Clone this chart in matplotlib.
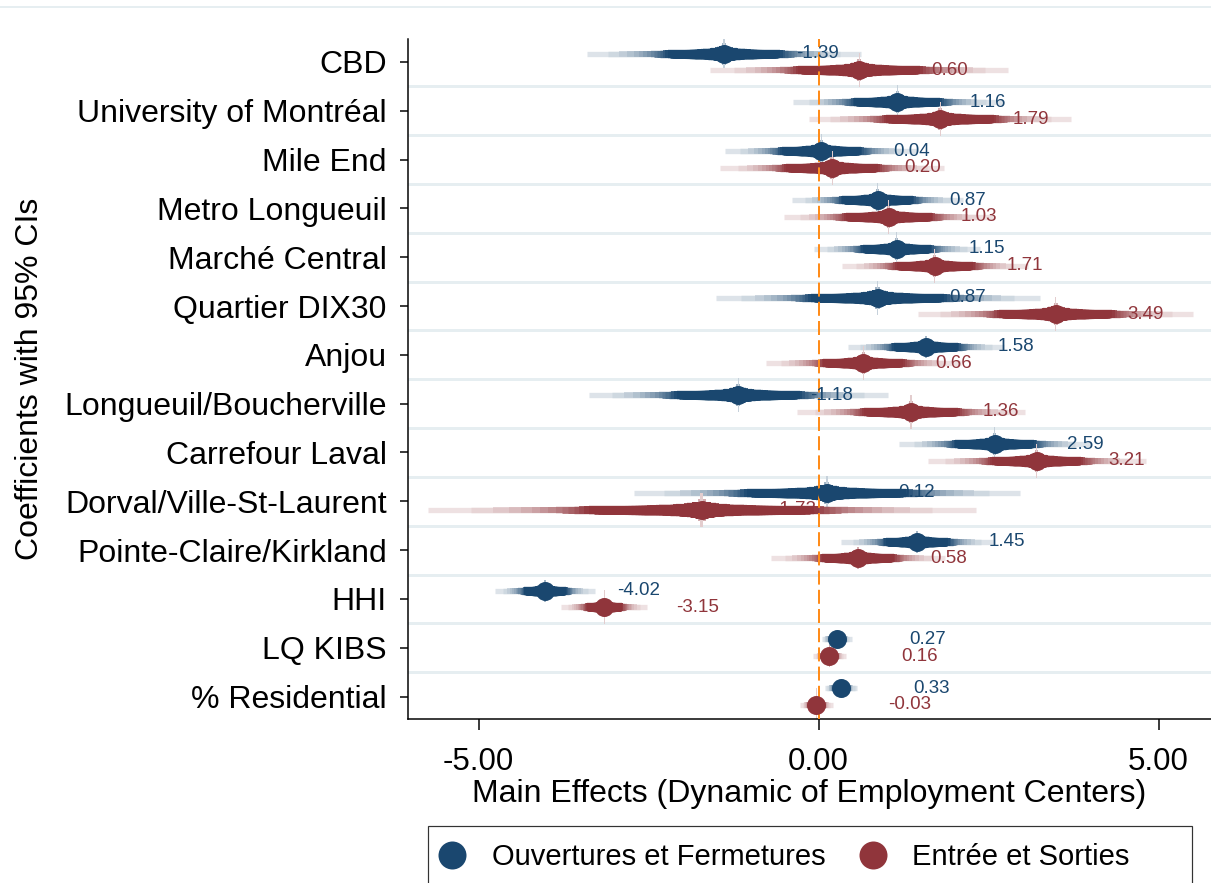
import matplotlib
matplotlib.use("Agg")
import matplotlib.pyplot as plt
import matplotlib.colors as mcolors
import numpy as np
from statistics import NormalDist
from matplotlib.lines import Line2D
from matplotlib.patches import Rectangle

plt.rcParams['font.family'] = ['Liberation Sans', 'DejaVu Sans']

# ---- data -------------------------------------------------------------
categories = ["CBD", "University of Montréal", "Mile End", "Metro Longueuil",
              "Marché Central", "Quartier DIX30", "Anjou",
              "Longueuil/Boucherville", "Carrefour Laval",
              "Dorval/Ville-St-Laurent", "Pointe-Claire/Kirkland", "HHI",
              "LQ KIBS", "% Residential"]

series_names = ["Ouvertures et Fermetures", "Entrée et Sorties"]

# point estimates
coef_open = [-1.39, 1.16, 0.04, 0.87, 1.15, 0.87, 1.58, -1.18, 2.59, 0.12,
             1.45, -4.02, 0.27, 0.33]
coef_entry = [0.60, 1.79, 0.20, 1.03, 1.71, 3.49, 0.66, 1.36, 3.21, -1.72,
              0.58, -3.15, 0.16, -0.03]

# half-width of the outermost (99%) interval
hw_open = [2.02, 1.54, 1.41, 1.26, 1.22, 2.38, 1.15, 2.20, 1.41, 2.84,
           1.12, 0.74, 0.22, 0.24]
hw_entry = [2.19, 1.93, 1.65, 1.54, 1.37, 2.02, 1.43, 1.68, 1.60, 4.03,
            1.28, 0.63, 0.24, 0.24]

xticks = [-5, 0, 5]

# ---- styling ----------------------------------------------------------
NAVY = "#1a476f"
MAROON = "#90353b"
SEP = "#e6eef1"

W, H, DPI = 1211, 883, 100
fig = plt.figure(figsize=(W / DPI, H / DPI), dpi=DPI)
ax = fig.add_axes([408 / W, 1 - 719 / H, 1 - 408 / W, (719 - 39) / H])

n = len(categories)
ypos = np.arange(1, n + 1)
px = 0.72  # points per pixel at 100 dpi

# smoothed confidence intervals: many nested levels, thicker and darker inside
levels = np.arange(1, 100, 2)
zq = np.array([NormalDist().inv_cdf(0.5 + l / 200) for l in levels])
zfrac = zq / zq[-1]
width_px = np.interp(levels, [1, 3, 5, 9, 15, 25, 40, 70, 85, 99],
                     [34, 22, 17, 15, 13, 11, 9.5, 8.5, 6, 5.3])
intensity = np.interp(levels, [1, 3, 5, 72, 99],
                      [0.25, 0.4, 1.0, 1.0, 0.15])


def tint(color, f):
    rgb = np.array(mcolors.to_rgb(color))
    return tuple(1 - f * (1 - rgb))


series = [(coef_open, hw_open, NAVY, -0.17, series_names[0]),
          (coef_entry, hw_entry, MAROON, 0.17, series_names[1])]

# category separators
for b in np.arange(1.5, n, 1.0):
    ax.axhline(b, color=SEP, lw=3 * px, zorder=0)

handles = []
for coef, hw, col, off, name in series:
    ys, x0, x1, cols, lws = [], [], [], [], []
    for i in range(n):
        for k in reversed(range(len(levels))):
            h = hw[i] * zfrac[k]
            ys.append(ypos[i] + off)
            x0.append(coef[i] - h)
            x1.append(coef[i] + h)
            cols.append(tint(col, intensity[k]))
            lws.append(width_px[k] * px)
    lc = ax.hlines(ys, x0, x1, colors=cols, linewidths=lws, zorder=2)
    lc.set_capstyle('butt')
    hd, = ax.plot(coef, ypos + off, 'o', ms=19 * px, color=col, mew=0,
                  linestyle='none', zorder=5, label=name)
    handles.append(hd)
    for i in range(n):
        ax.annotate(f"{coef[i]:.2f}", (coef[i], ypos[i] + off),
                    xytext=(72 * px, 0), textcoords='offset points',
                    ha='left', va='center', fontsize=13.5, color=col,
                    zorder=6)

ax.axvline(0, color='#ff8c1a', lw=2 * px, dashes=(7, 2.6), zorder=3)

ax.set_xlim((408 - 818.5) / 68, (1211 - 818.5) / 68)
ax.set_ylim(14.46, 0.53)

ax.set_yticks(ypos)
ax.set_yticklabels(categories, fontsize=23)
ax.set_xticks(xticks)
ax.set_xticklabels([f"{t:.2f}" for t in xticks], fontsize=22.5)
ax.tick_params(axis='y', length=8 * px, width=1.5 * px, pad=9.5)
ax.tick_params(axis='x', length=11 * px, width=1.5 * px, pad=12)

for s in ['top', 'right']:
    ax.spines[s].set_visible(False)
for s in ['left', 'bottom']:
    ax.spines[s].set_linewidth(1.5 * px)
    ax.spines[s].set_color('black')

ax.set_xlabel("Main Effects (Dynamic of Employment Centers)", fontsize=23)
ax.xaxis.set_label_coords(0.5, -0.088)
ax.set_ylabel("Coefficients with 95% CIs", fontsize=23)
ax.yaxis.set_label_coords((45 - 408) / (W - 408), 0.5)

# thin rule across the top of the graph region
fig.add_artist(Line2D([0, 1], [1 - 7 / H] * 2, transform=fig.transFigure,
                      color=SEP, lw=2 * px))

# legend box running past the bottom edge
fig.add_artist(Rectangle((428 / W, 1 - 900 / H), (1192 - 428) / W,
                         (900 - 826) / H, transform=fig.transFigure,
                         fill=False, ec='#333333', lw=1.2 * px))
leg = fig.legend(handles=handles, labels=series_names, ncol=2, frameon=False,
                 loc='center left', bbox_to_anchor=(437.75 / W, 1 - 857 / H),
                 fontsize=21, markerscale=28 / 19, handlelength=1.0,
                 handletextpad=0.85, columnspacing=1.12, borderpad=0,
                 borderaxespad=0)

fig.savefig("out.png", dpi=DPI)
